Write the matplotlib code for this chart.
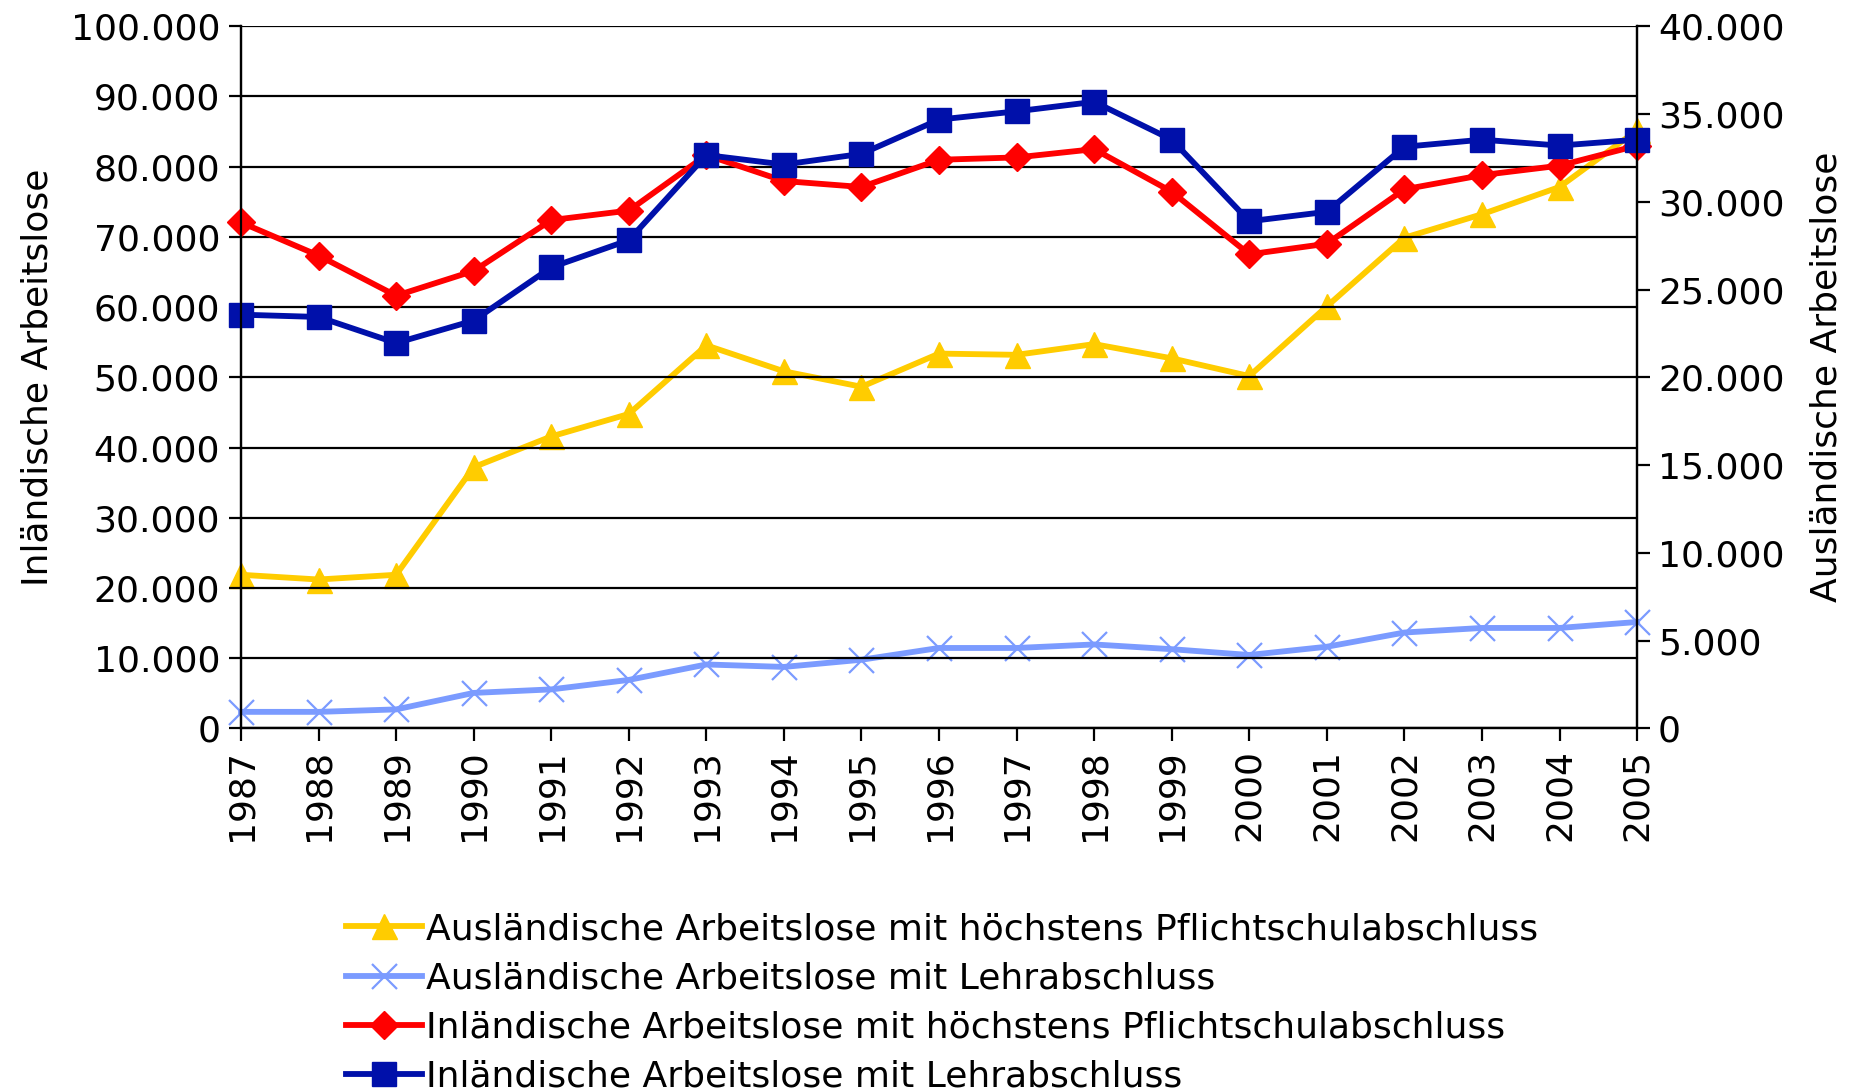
import matplotlib
matplotlib.use("Agg")
import matplotlib.pyplot as plt
from matplotlib.ticker import FuncFormatter, MultipleLocator

plt.rcParams['font.family'] = ['DejaVu Sans']

# years
years = list(range(1987, 2006))

# Auslaendische (right axis)
aus_pflicht = [8750, 8480, 8750, 14880, 16630, 17910, 21820, 20340, 19460,
               21350, 21280, 21890, 21080, 20070, 24040, 27950, 29290, 30840, 34070]
aus_lehre = [940, 940, 1080, 2020, 2220, 2760, 3640, 3500, 3910,
             4580, 4580, 4780, 4510, 4180, 4650, 5460, 5720, 5720, 6060]

# Inlaendische (left axis)
inl_pflicht = [72050, 67340, 61620, 65150, 72390, 73740, 81650, 77950, 77100,
               80980, 81310, 82490, 76430, 67510, 69020, 76770, 78790, 80140, 83000]
inl_lehre = [58920, 58590, 54880, 58080, 65660, 69530, 81650, 80300, 81820,
             86700, 87880, 89230, 83840, 72220, 73570, 82830, 83840, 83000, 83840]

labels = ['Ausländische Arbeitslose mit höchstens Pflichtschulabschluss',
          'Ausländische Arbeitslose mit Lehrabschluss',
          'Inländische Arbeitslose mit höchstens Pflichtschulabschluss',
          'Inländische Arbeitslose mit Lehrabschluss']

c_yellow = '#FFCC00'
c_light = '#7B9BFF'
c_red = '#FF0000'
c_dark = '#0010AA'

fs = 26


def dots(v, pos):
    return '{:,.0f}'.format(v).replace(',', '.')


fig = plt.figure(figsize=(18.54, 10.92), dpi=100)
ax = fig.add_axes([0.130, 0.333, 0.753, 0.643])
ax2 = ax.twinx()

# left axis on top so the blue squares sit above the yellow triangles
ax.set_zorder(ax2.get_zorder() + 1)
ax.patch.set_visible(False)

l1, = ax2.plot(years, aus_pflicht, color=c_yellow, lw=4.2, marker='^', ms=18, clip_on=False)
l2, = ax2.plot(years, aus_lehre, color=c_light, lw=4.2, marker='x', ms=18, mew=1.6, clip_on=False)
l3, = ax.plot(years, inl_pflicht, color=c_red, lw=4.2, marker='D', ms=14, clip_on=False)
l4, = ax.plot(years, inl_lehre, color=c_dark, lw=4.2, marker='s', ms=17, clip_on=False)

ax.set_xlim(1987, 2005)
ax.set_ylim(0, 100000)
ax2.set_ylim(0, 40000)
ax.yaxis.set_major_locator(MultipleLocator(10000))
ax2.yaxis.set_major_locator(MultipleLocator(5000))
ax.yaxis.set_major_formatter(FuncFormatter(dots))
ax2.yaxis.set_major_formatter(FuncFormatter(dots))
ax.set_xticks(years)
ax.set_xticklabels([str(y) for y in years], rotation=90)

ax.grid(axis='y', color='black', lw=1.6)
for a in (ax, ax2):
    a.spines['top'].set_visible(False)
    for s in a.spines.values():
        s.set_linewidth(1.6)
    a.tick_params(direction='out', length=9, width=1.6, labelsize=fs, pad=6)

ax.set_ylabel('Inländische Arbeitslose', fontsize=fs, labelpad=12)
ax2.set_ylabel('Ausländische Arbeitslose', fontsize=fs, labelpad=18)

fig.legend([l1, l2, l3, l4], labels, loc='upper left', bbox_to_anchor=(0.179, 0.178),
           frameon=False, fontsize=fs, handlelength=2.1, handletextpad=0.1,
           labelspacing=0.42, borderaxespad=0)

fig.savefig('out.png', dpi=100)
